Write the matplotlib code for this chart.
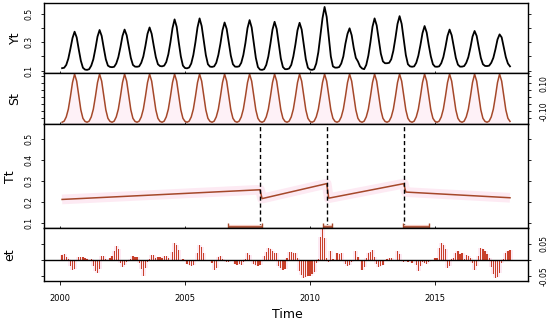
import numpy as np
import matplotlib.pyplot as plt

# monthly series, one row per year: values at Y+1/12 ... Y+12/12
years = list(range(2000, 2018))

yt_rows = [
    [0.117, 0.120, 0.140, 0.185, 0.255, 0.330, 0.375, 0.335, 0.250, 0.170, 0.120, 0.107],
    [0.105, 0.110, 0.135, 0.180, 0.255, 0.340, 0.387, 0.345, 0.260, 0.180, 0.135, 0.126],
    [0.124, 0.127, 0.150, 0.195, 0.265, 0.345, 0.390, 0.350, 0.270, 0.190, 0.140, 0.128],
    [0.127, 0.130, 0.155, 0.200, 0.275, 0.360, 0.405, 0.360, 0.275, 0.195, 0.145, 0.132],
    [0.130, 0.135, 0.160, 0.215, 0.300, 0.400, 0.462, 0.410, 0.300, 0.200, 0.135, 0.118],
    [0.116, 0.122, 0.150, 0.210, 0.300, 0.405, 0.469, 0.415, 0.310, 0.210, 0.145, 0.128],
    [0.126, 0.130, 0.155, 0.210, 0.290, 0.385, 0.440, 0.395, 0.300, 0.205, 0.145, 0.128],
    [0.127, 0.130, 0.155, 0.210, 0.295, 0.400, 0.457, 0.405, 0.295, 0.190, 0.125, 0.107],
    [0.105, 0.110, 0.140, 0.200, 0.290, 0.390, 0.445, 0.395, 0.290, 0.185, 0.125, 0.110],
    [0.110, 0.115, 0.140, 0.200, 0.285, 0.385, 0.438, 0.390, 0.285, 0.180, 0.120, 0.107],
    [0.105, 0.110, 0.150, 0.230, 0.350, 0.470, 0.550, 0.480, 0.340, 0.200, 0.130, 0.121],
    [0.121, 0.125, 0.150, 0.200, 0.290, 0.360, 0.399, 0.350, 0.260, 0.190, 0.165, 0.130],
    [0.115, 0.110, 0.140, 0.205, 0.300, 0.410, 0.469, 0.420, 0.320, 0.220, 0.165, 0.152],
    [0.152, 0.155, 0.180, 0.240, 0.330, 0.430, 0.485, 0.430, 0.320, 0.210, 0.145, 0.130],
    [0.127, 0.130, 0.155, 0.205, 0.280, 0.365, 0.415, 0.370, 0.280, 0.200, 0.145, 0.128],
    [0.127, 0.130, 0.152, 0.195, 0.265, 0.345, 0.390, 0.350, 0.270, 0.190, 0.142, 0.128],
    [0.128, 0.132, 0.155, 0.195, 0.262, 0.340, 0.380, 0.345, 0.265, 0.190, 0.145, 0.133],
    [0.132, 0.135, 0.155, 0.190, 0.250, 0.320, 0.356, 0.335, 0.265, 0.195, 0.150, 0.130],
]

et_rows = [
    [0.016, 0.017, 0.008, 0.003, -0.020, -0.031, -0.028, -0.004, 0.010, 0.009, 0.007, 0.004],
    [0.003, -0.002, 0.001, -0.020, -0.035, -0.042, -0.030, 0.012, 0.011, 0.002, -0.003, 0.004],
    [0.012, 0.026, 0.042, 0.032, -0.010, -0.021, -0.015, -0.006, 0.000, 0.003, 0.013, 0.010],
    [0.008, -0.010, -0.030, -0.050, -0.025, -0.008, 0.003, 0.016, 0.015, 0.004, 0.009, 0.010],
    [0.006, 0.012, 0.011, 0.004, -0.003, 0.024, 0.052, 0.045, 0.030, 0.000, 0.003, -0.002],
    [-0.012, -0.017, -0.019, -0.015, -0.003, 0.020, 0.047, 0.040, 0.022, -0.002, -0.005, -0.004],
    [-0.009, -0.031, -0.027, 0.008, 0.012, 0.002, -0.001, -0.006, -0.008, -0.005, -0.004, -0.012],
    [-0.016, -0.013, -0.015, -0.006, 0.002, 0.020, 0.016, -0.004, -0.014, -0.016, -0.019, -0.017],
    [-0.003, 0.013, 0.024, 0.036, 0.033, 0.028, 0.022, 0.020, -0.018, -0.025, -0.031, -0.028],
    [0.004, 0.025, 0.023, 0.020, 0.020, 0.005, -0.035, -0.048, -0.057, -0.055, -0.050, -0.052],
    [-0.045, -0.038, -0.010, 0.002, 0.070, 0.094, 0.068, 0.004, -0.006, 0.026, 0.002, -0.004],
    [0.020, 0.018, 0.022, -0.005, -0.012, -0.020, -0.016, -0.008, 0.000, 0.026, 0.008, -0.004],
    [-0.031, -0.022, 0.004, 0.022, 0.025, 0.031, 0.010, -0.012, -0.021, -0.018, -0.016, -0.004],
    [0.003, 0.005, 0.005, -0.004, 0.000, 0.026, 0.018, -0.004, -0.006, -0.003, -0.007, -0.005],
    [-0.009, -0.004, -0.017, -0.036, -0.020, -0.008, -0.010, -0.012, -0.008, -0.003, 0.000, 0.004],
    [0.005, 0.036, 0.052, 0.046, 0.034, -0.026, -0.018, 0.003, 0.006, 0.020, 0.026, 0.018],
    [0.020, 0.002, 0.015, 0.012, 0.004, -0.010, -0.031, -0.020, 0.012, 0.036, 0.034, 0.026],
    [0.018, 0.006, -0.022, -0.045, -0.057, -0.054, -0.040, -0.010, 0.002, 0.020, 0.028, 0.031],
]

# seasonal cycle (same month positions as the rows above)
st_cycle = [-0.178, -0.170, -0.140, -0.085, 0.005, 0.105, 0.165, 0.115, 0.010, -0.090, -0.150, -0.172]

# trend segments (end points of each linear piece)
trend_t = [2000.083, 2008.0, 2008.083, 2010.667, 2010.75, 2013.75, 2013.833, 2018.0]
trend_v = [0.214, 0.260, 0.218, 0.289, 0.220, 0.289, 0.249, 0.222]

# breakpoints and their confidence intervals
breaks = [2008.0, 2010.67, 2013.75]
ci_lo = [2006.72, 2010.52, 2013.72]
ci_hi = [2008.08, 2010.88, 2014.76]

t = np.array([y + m / 12 for y in years for m in range(1, 13)])
yt = np.concatenate(yt_rows)
et = np.concatenate(et_rows)
st = np.tile(st_cycle, len(years))

brown = "#a5482a"
pink = "#fdeaf3"

fig = plt.figure(figsize=(5.5, 3.22), dpi=100)
L, W = 0.08, 0.88
ax_y = fig.add_axes([L, 0.7742, W, 0.2165])
ax_s = fig.add_axes([L, 0.6134, W, 0.1608])
ax_t = fig.add_axes([L, 0.2904, W, 0.3230])
ax_e = fig.add_axes([L, 0.1273, W, 0.1631])
axes = [ax_y, ax_s, ax_t, ax_e]

# Yt
ax_y.plot(t, yt, color="black", lw=1.3)
ax_y.set_ylim(0.085, 0.578)
ax_y.set_yticks([0.1, 0.2, 0.3, 0.4, 0.5])
ax_y.set_yticklabels(["0.1", "", "0.3", "", "0.5"])

# St
ax_s.fill_between(t, -0.194, st, color="#fef1f7", lw=0)
ax_s.plot(t, st, color=brown, lw=1.1)
ax_s.set_ylim(-0.194, 0.175)
ax_s.set_yticks([-0.15, -0.10, -0.05, 0.0, 0.05, 0.10, 0.15])
ax_s.set_yticklabels(["", "-0.10", "", "", "", "0.10", ""])

# Tt
ax_t.plot(trend_t, trend_v, color=pink, lw=7, solid_capstyle="butt")
ax_t.plot(trend_t, trend_v, color=brown, lw=1.1)
for b in breaks:
    ax_t.axvline(b, color="black", lw=1, linestyle=(0, (3, 2)))
ci_y = 0.082
ax_t.hlines([ci_y] * 3, ci_lo, ci_hi, color="#f6c9c0", lw=3)
ax_t.hlines([ci_y] * 3, ci_lo, ci_hi, color=brown, lw=1.2)
ax_t.vlines(ci_lo + ci_hi, ci_y - 0.006, ci_y + 0.018, color=brown, lw=1)
ax_t.set_ylim(0.076, 0.57)
ax_t.set_yticks([0.1, 0.2, 0.3, 0.4, 0.5])
ax_t.set_yticklabels(["0.1", "0.2", "0.3", "0.4", "0.5"])

# et
ax_e.bar(t, et, width=0.2, color=pink, lw=0)
ax_e.bar(t, et, width=0.05, color="#c8402a", lw=0)
ax_e.axhline(0, color="black", lw=1)
ax_e.set_ylim(-0.066, 0.097)
ax_e.set_yticks([-0.05, 0.0, 0.05])
ax_e.set_yticklabels(["-0.05", "", "0.05"])

names = ["Yt", "St", "Tt", "et"]
label_x = [15, 15, 10, 10]
for ax, name, lx in zip(axes, names, label_x):
    ax.set_xlim(1999.36, 2018.72)
    ax.set_xticks([2000, 2005, 2010, 2015])
    for sp in ax.spines.values():
        sp.set_linewidth(1.0)
    ax.tick_params(axis="both", length=2.5, width=0.6, labelsize=5.5, colors="black")
    ax.tick_params(axis="y", left=True, right=True)
    ax.tick_params(axis="x", direction="inout", length=3)
    if ax is not ax_e:
        ax.tick_params(axis="x", labelbottom=False)
    box = ax.get_position()
    fig.text(lx / 550, box.y0 + box.height / 2, name, rotation=90,
             ha="center", va="center", fontsize=9)

for ax in [ax_y, ax_t]:
    ax.tick_params(axis="y", labelleft=True, labelright=False, pad=5)
    for lbl in ax.get_yticklabels():
        lbl.set_rotation(90)
        lbl.set_va("center")
for ax in [ax_s, ax_e]:
    ax.tick_params(axis="y", labelleft=False, labelright=True, pad=6)
    for lbl in ax.get_yticklabels():
        lbl.set_rotation(90)
        lbl.set_va("center")

ax_e.tick_params(axis="x", direction="out", length=3, pad=6, labelsize=6)
ax_e.set_xticklabels(["2000", "2005", "2010", "2015"])
fig.text(0.522, 0.022, "Time", ha="center", va="center", fontsize=9)

fig.savefig("out.png", dpi=100)
